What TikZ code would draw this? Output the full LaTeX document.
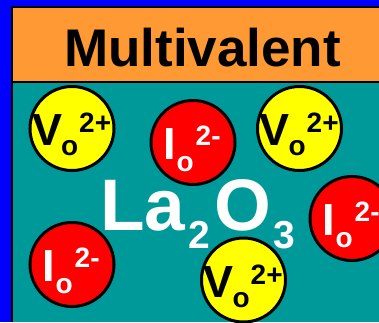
\documentclass[tikz,border=0pt]{standalone}
\usepackage{fontspec}
\setmainfont{Liberation Sans}
\definecolor{bgblue}{RGB}{0,0,255}
\definecolor{headorange}{RGB}{255,153,51}
\definecolor{bodyteal}{RGB}{0,153,153}
\definecolor{ionred}{RGB}{255,0,0}
\definecolor{vacyellow}{RGB}{255,255,0}
\newcommand\fs[1]{\fontsize{#1}{#1}\selectfont\bfseries}
\begin{document}
\begin{tikzpicture}[x=1pt,y=-1pt,
  ball/.style={circle,draw=black,line width=3pt,minimum size=84pt,inner sep=0pt},
  vball/.style={ball,fill=vacyellow},
  iball/.style={ball,fill=ionred},
  txt/.style={inner sep=0pt,anchor=base west},
  big/.style={txt,font=\fs{45}},
  small/.style={txt,font=\fs{28}},
  wtxt/.style={text=white},
  btxt/.style={text=black}]
\useasboundingbox (0,0) rectangle (379,322);
\fill[bgblue] (0,0) rectangle (379,322);
\fill[headorange] (12,7) rectangle (379,82);
\fill[bodyteal] (12,82) rectangle (379,322);
\draw[line width=2pt] (379,7) -- (12,7) -- (12,322);
\draw[line width=2pt] (12,82) -- (379,82);
\node[txt,anchor=base,font=\fs{53}] (title) at (202.5,66) {Multivalent};
% circles
\node[vball] (v1) at (72,128.5) {};
\node[iball] (i1) at (193,142.5) {};
\node[vball] (v2) at (299.5,128.5) {};
\node[iball] (i2) at (352,218.5) {};
\node[iball] (i3) at (72,264.5) {};
\node[vball] (v3) at (243.5,280) {};
% vacancy labels
\foreach \c in {v1,v2,v3}{
  \node[big,btxt] (\c V) at ([shift={(-40,17)}]\c.center) {V};
  \node[small,btxt] (\c o) at ([shift={(-11,27)}]\c.center) {o};
  \node[small,btxt] (\c q) at ([shift={(7,4)}]\c.center) {2+};
}
% interstitial labels
\foreach \c in {i1,i2,i3}{
  \node[big,wtxt] (\c I) at ([shift={(-29.5,17)}]\c.center) {I};
  \node[small,wtxt] (\c o) at ([shift={(-16.5,29)}]\c.center) {o};
  \node[small,wtxt] (\c q) at ([shift={(2.5,3)}]\c.center) {2-};
}
% La2O3
\node[txt,font=\fs{73},text=white] (la) at (100,230) {La};
\node[txt,font=\fs{39},text=white] (s2) at (188.5,248) {2};
\node[txt,font=\fs{73},text=white] (ox) at (214,230) {O};
\node[txt,font=\fs{39},text=white] (s3) at (273.5,248) {3};
\end{tikzpicture}
\end{document}
